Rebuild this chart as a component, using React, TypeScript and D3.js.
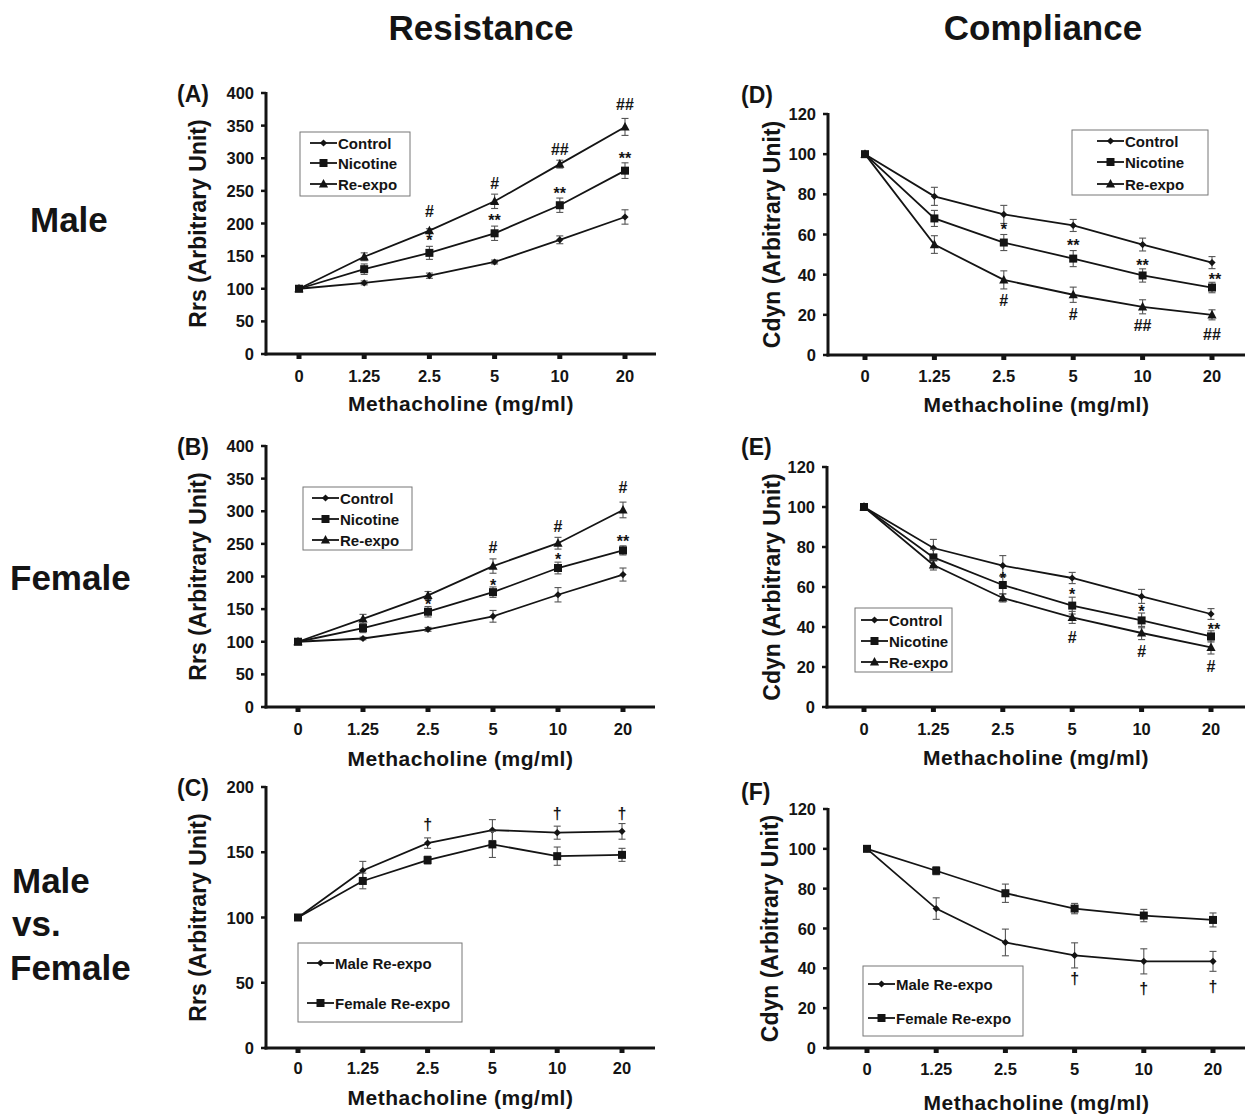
import React from 'react';
import * as d3 from 'd3';

// ---------- data ----------
const doses = ['0', '1.25', '2.5', '5', '10', '20'];
const rrsTicks = [0, 50, 100, 150, 200, 250, 300, 350, 400];
const rrsTicksC = [0, 50, 100, 150, 200];
const cdynTicks = [0, 20, 40, 60, 80, 100, 120];

// (A) Male resistance
const maleRrsControl = [100, 109, 120, 141, 175, 210];
const maleRrsControlErr = [0, 3, 4, 3, 6, 11];
const maleRrsNicotine = [100, 130, 155, 185, 228, 281];
const maleRrsNicotineErr = [0, 8, 10, 11, 11, 12];
const maleRrsReexpo = [100, 149, 189, 234, 291, 348];
const maleRrsReexpoErr = [0, 6, 3, 11, 6, 13];

// (B) Female resistance
const femaleRrsControl = [100, 105, 119, 139, 172, 203];
const femaleRrsControlErr = [0, 2, 3, 9, 11, 10];
const femaleRrsNicotine = [100, 121, 146, 176, 213, 240];
const femaleRrsNicotineErr = [0, 7, 8, 8, 9, 7];
const femaleRrsReexpo = [100, 135, 171, 216, 251, 302];
const femaleRrsReexpoErr = [0, 7, 6, 11, 9, 12];

// (C) Male vs female resistance
const maleReexpoRrs = [100, 136, 157, 167, 165, 166];
const maleReexpoRrsErr = [0, 7, 4, 8, 5, 6];
const femaleReexpoRrs = [100, 128, 144, 156, 147, 148];
const femaleReexpoRrsErr = [0, 6, 3, 10, 7, 5];

// (D) Male compliance
const maleCdynControl = [100, 79, 70, 64.5, 55, 46];
const maleCdynControlErr = [0, 4.5, 4.5, 3, 3.2, 3];
const maleCdynNicotine = [100, 68, 56, 48, 39.6, 33.6];
const maleCdynNicotineErr = [0, 4, 4, 4, 3.3, 2.6];
const maleCdynReexpo = [100, 55, 37.4, 30, 24, 20];
const maleCdynReexpoErr = [0, 4.4, 4.5, 3.8, 3.5, 2.5];

// (E) Female compliance
const femaleCdynControl = [100, 79.5, 70.7, 64.5, 55.3, 46.5];
const femaleCdynControlErr = [0, 4.3, 5, 2.8, 3.5, 2.7];
const femaleCdynNicotine = [100, 74.8, 61, 50.7, 43.3, 35.3];
const femaleCdynNicotineErr = [0, 4, 4.4, 4.2, 3.7, 2.8];
const femaleCdynReexpo = [100, 71, 54.5, 44.8, 37, 29.8];
const femaleCdynReexpoErr = [0, 2.5, 2, 3, 3.3, 3.3];

// (F) Male vs female compliance
const maleReexpoCdyn = [100, 70, 53, 46.5, 43.5, 43.5];
const maleReexpoCdynErr = [0, 5.4, 6.7, 6.3, 6.3, 5];
const femaleReexpoCdyn = [100, 89, 77.7, 70, 66.5, 64.3];
const femaleReexpoCdynErr = [0, 2, 4.6, 2.6, 3.1, 3.5];

// significance marks: [dose, value, symbol]
const annotA: [string, number, string][] = [
  ['2.5', 218, '#'], ['2.5', 179, '*'], ['5', 262, '#'], ['5', 210, '**'],
  ['10', 314, '##'], ['10', 252, '**'], ['20', 382, '##'], ['20', 305, '**'],
];
const annotB: [string, number, string][] = [
  ['2.5', 162, '*'], ['5', 244, '#'], ['5', 192, '*'], ['10', 277, '#'],
  ['10', 231, '*'], ['20', 337, '#'], ['20', 259, '**'],
];
const annotC: [string, number, string][] = [
  ['2.5', 171, '†'], ['10', 180, '†'], ['20', 180, '†'],
];
const annotD: [string, number, string][] = [
  ['2.5', 64, '*'], ['2.5', 27, '#'], ['5', 56.5, '**'], ['5', 20, '#'],
  ['10', 46.5, '**'], ['10', 14.5, '##'], ['20', 39.4, '**'], ['20', 10, '##'],
];
const annotE: [string, number, string][] = [
  ['2.5', 66, '*'], ['5', 58, '*'], ['5', 35, '#'], ['10', 49.5, '*'],
  ['10', 28, '#'], ['20', 40.3, '**'], ['20', 20.3, '#'],
];
const annotF: [string, number, string][] = [
  ['5', 35, '†'], ['10', 30, '†'], ['20', 31, '†'],
];

// ---------- types / helpers ----------
type MarkerKind = 'diamond' | 'square' | 'triangle';
type Series = { name: string; values: number[]; errors: number[]; marker: MarkerKind };

const FONT = '"Liberation Sans", Arial, Helvetica, sans-serif';
const INK = '#141414';

function Marker({ kind, x, y }: { kind: MarkerKind; x: number; y: number }) {
  if (kind === 'square') return <rect x={x - 4} y={y - 4} width={8} height={8} fill={INK} />;
  if (kind === 'diamond')
    return <path d={`M${x},${y - 3.6}L${x + 3.6},${y}L${x},${y + 3.6}L${x - 3.6},${y}Z`} fill={INK} />;
  return <path d={`M${x},${y - 5}L${x + 4.6},${y + 3.6}L${x - 4.6},${y + 3.6}Z`} fill={INK} />;
}

type PanelCfg = {
  label: string;
  labelX: number;
  labelY: number;
  axisX: number;
  axisRight: number;
  xFirst: number;
  xLast: number;
  yTop: number;
  yBot: number;
  ticks: number[];
  yTitle: string;
  yTitleX: number;
  xTickY: number;
  xTitleY: number;
  series: Series[];
  annots: [string, number, string][];
  legend: { x: number; y: number; w: number; h: number; lineX: number; rows: number[] };
};

function Panel({ cfg }: { cfg: PanelCfg }) {
  const x = d3.scalePoint<string>().domain(doses).range([cfg.xFirst, cfg.xLast]);
  const yMax = cfg.ticks[cfg.ticks.length - 1];
  const y = d3.scaleLinear().domain([0, yMax]).range([cfg.yBot, cfg.yTop]);
  const line = d3
    .line<number>()
    .x((_, i) => x(doses[i]) as number)
    .y((d) => y(d));

  const lg = cfg.legend;
  return (
    <g>
      {/* panel label */}
      <text x={cfg.labelX} y={cfg.labelY} fontSize={23} fontWeight="bold" dominantBaseline="central" fill={INK}>
        {cfg.label}
      </text>

      {/* y axis */}
      <line x1={cfg.axisX} x2={cfg.axisX} y1={y(yMax) - 1} y2={cfg.yBot + 1.5} stroke={INK} strokeWidth={3} />
      {cfg.ticks.map((t) => (
        <g key={'yt' + t}>
          <line x1={cfg.axisX - 5} x2={cfg.axisX} y1={y(t)} y2={y(t)} stroke={INK} strokeWidth={2.5} />
          <text
            x={cfg.axisX - 12}
            y={y(t)}
            textAnchor="end"
            dominantBaseline="central"
            fontSize={16.5}
            fontWeight="bold"
            fill={INK}
          >
            {t}
          </text>
        </g>
      ))}
      <text
        transform={`translate(${cfg.yTitleX},${(cfg.yTop + cfg.yBot) / 2}) rotate(-90)`}
        textAnchor="middle"
        dominantBaseline="central"
        fontSize={23}
        fontWeight="bold"
        fill={INK}
      >
        {cfg.yTitle}
      </text>

      {/* x axis */}
      <line x1={cfg.axisX - 1.5} x2={cfg.axisRight} y1={cfg.yBot} y2={cfg.yBot} stroke={INK} strokeWidth={3} />
      {doses.map((d) => (
        <g key={'xt' + d}>
          <rect x={(x(d) as number) - 2.5} y={cfg.yBot} width={5} height={5} fill={INK} />
          <text
            x={x(d) as number}
            y={cfg.xTickY}
            textAnchor="middle"
            dominantBaseline="central"
            fontSize={16.5}
            fontWeight="bold"
            fill={INK}
          >
            {d}
          </text>
        </g>
      ))}
      <text
        x={(cfg.axisX + cfg.axisRight) / 2}
        y={cfg.xTitleY}
        textAnchor="middle"
        dominantBaseline="central"
        fontSize={21}
        fontWeight="bold"
        letterSpacing={0.5}
        fill={INK}
      >
        Methacholine (mg/ml)
      </text>

      {/* series */}
      {cfg.series.map((s) => (
        <g key={s.name}>
          {s.values.map((v, i) =>
            s.errors[i] > 0 ? (
              <g key={'e' + i} stroke="#555" strokeWidth={1.1}>
                <line x1={x(doses[i]) as number} x2={x(doses[i]) as number} y1={y(v - s.errors[i])} y2={y(v + s.errors[i])} />
                <line x1={(x(doses[i]) as number) - 3.5} x2={(x(doses[i]) as number) + 3.5} y1={y(v - s.errors[i])} y2={y(v - s.errors[i])} />
                <line x1={(x(doses[i]) as number) - 3.5} x2={(x(doses[i]) as number) + 3.5} y1={y(v + s.errors[i])} y2={y(v + s.errors[i])} />
              </g>
            ) : null
          )}
          <path d={line(s.values) || ''} fill="none" stroke={INK} strokeWidth={1.8} />
          {s.values.map((v, i) => (
            <Marker key={'m' + i} kind={s.marker} x={x(doses[i]) as number} y={y(v)} />
          ))}
        </g>
      ))}

      {/* significance marks */}
      {cfg.annots.map(([d, v, sym], i) => (
        <text
          key={'a' + i}
          x={(x(d) as number) + (sym === '**' && d === '20' && yMax === 120 ? 3 : 0)}
          y={y(v) + (sym.startsWith('*') ? 3.5 : 0)}
          textAnchor="middle"
          dominantBaseline="central"
          fontSize={16}
          fontWeight="bold"
          fill={INK}
        >
          {sym}
        </text>
      ))}

      {/* legend */}
      <rect x={lg.x} y={lg.y} width={lg.w} height={lg.h} fill="#fff" stroke="#777" strokeWidth={1} />
      {cfg.series.map((s, i) => (
        <g key={'lg' + s.name}>
          <line x1={lg.lineX} x2={lg.lineX + 27} y1={lg.rows[i]} y2={lg.rows[i]} stroke={INK} strokeWidth={1.8} />
          <Marker kind={s.marker} x={lg.lineX + 13.5} y={lg.rows[i]} />
          <text
            x={lg.lineX + 28}
            y={lg.rows[i]}
            dominantBaseline="central"
            fontSize={15}
            fontWeight="bold"
            fill={INK}
          >
            {s.name}
          </text>
        </g>
      ))}
    </g>
  );
}

const panels: PanelCfg[] = [
  {
    label: '(A)', labelX: 177, labelY: 94, axisX: 266, axisRight: 656, xFirst: 299, xLast: 625,
    yTop: 93, yBot: 354, ticks: rrsTicks, yTitle: 'Rrs (Arbitrary Unit)', yTitleX: 198,
    xTickY: 376, xTitleY: 403,
    series: [
      { name: 'Control', values: maleRrsControl, errors: maleRrsControlErr, marker: 'diamond' },
      { name: 'Nicotine', values: maleRrsNicotine, errors: maleRrsNicotineErr, marker: 'square' },
      { name: 'Re-expo', values: maleRrsReexpo, errors: maleRrsReexpoErr, marker: 'triangle' },
    ],
    annots: annotA,
    legend: { x: 300, y: 132, w: 110, h: 64, lineX: 310, rows: [143, 163, 184] },
  },
  {
    label: '(B)', labelX: 177, labelY: 447, axisX: 266, axisRight: 655, xFirst: 298, xLast: 623,
    yTop: 446, yBot: 707, ticks: rrsTicks, yTitle: 'Rrs (Arbitrary Unit)', yTitleX: 198,
    xTickY: 729, xTitleY: 758,
    series: [
      { name: 'Control', values: femaleRrsControl, errors: femaleRrsControlErr, marker: 'diamond' },
      { name: 'Nicotine', values: femaleRrsNicotine, errors: femaleRrsNicotineErr, marker: 'square' },
      { name: 'Re-expo', values: femaleRrsReexpo, errors: femaleRrsReexpoErr, marker: 'triangle' },
    ],
    annots: annotB,
    legend: { x: 303, y: 487, w: 109, h: 63, lineX: 312, rows: [498, 519, 540] },
  },
  {
    label: '(C)', labelX: 177, labelY: 788, axisX: 266, axisRight: 655, xFirst: 298, xLast: 622,
    yTop: 787, yBot: 1048, ticks: rrsTicksC, yTitle: 'Rrs (Arbitrary Unit)', yTitleX: 198,
    xTickY: 1068, xTitleY: 1097,
    series: [
      { name: 'Male Re-expo', values: maleReexpoRrs, errors: maleReexpoRrsErr, marker: 'diamond' },
      { name: 'Female Re-expo', values: femaleReexpoRrs, errors: femaleReexpoRrsErr, marker: 'square' },
    ],
    annots: annotC,
    legend: { x: 298, y: 943, w: 164, h: 79, lineX: 307, rows: [963, 1003] },
  },
  {
    label: '(D)', labelX: 741, labelY: 95, axisX: 828, axisRight: 1245, xFirst: 865, xLast: 1212,
    yTop: 114, yBot: 355, ticks: cdynTicks, yTitle: 'Cdyn (Arbitrary Unit)', yTitleX: 772,
    xTickY: 376, xTitleY: 404,
    series: [
      { name: 'Control', values: maleCdynControl, errors: maleCdynControlErr, marker: 'diamond' },
      { name: 'Nicotine', values: maleCdynNicotine, errors: maleCdynNicotineErr, marker: 'square' },
      { name: 'Re-expo', values: maleCdynReexpo, errors: maleCdynReexpoErr, marker: 'triangle' },
    ],
    annots: annotD,
    legend: { x: 1072, y: 130, w: 136, h: 65, lineX: 1097, rows: [141, 162, 184] },
  },
  {
    label: '(E)', labelX: 741, labelY: 447, axisX: 827, axisRight: 1245, xFirst: 864, xLast: 1211,
    yTop: 467, yBot: 707, ticks: cdynTicks, yTitle: 'Cdyn (Arbitrary Unit)', yTitleX: 772,
    xTickY: 729, xTitleY: 757,
    series: [
      { name: 'Control', values: femaleCdynControl, errors: femaleCdynControlErr, marker: 'diamond' },
      { name: 'Nicotine', values: femaleCdynNicotine, errors: femaleCdynNicotineErr, marker: 'square' },
      { name: 'Re-expo', values: femaleCdynReexpo, errors: femaleCdynReexpoErr, marker: 'triangle' },
    ],
    annots: annotE,
    legend: { x: 855, y: 608, w: 97, h: 64, lineX: 861, rows: [620, 641, 662] },
  },
  {
    label: '(F)', labelX: 741, labelY: 792, axisX: 828, axisRight: 1245, xFirst: 867, xLast: 1213,
    yTop: 809, yBot: 1048, ticks: cdynTicks, yTitle: 'Cdyn (Arbitrary Unit)', yTitleX: 770,
    xTickY: 1069, xTitleY: 1102,
    series: [
      { name: 'Male Re-expo', values: maleReexpoCdyn, errors: maleReexpoCdynErr, marker: 'diamond' },
      { name: 'Female Re-expo', values: femaleReexpoCdyn, errors: femaleReexpoCdynErr, marker: 'square' },
    ],
    annots: annotF,
    legend: { x: 863, y: 966, w: 160, h: 70, lineX: 868, rows: [984, 1018] },
  },
];

export default function App() {
  return (
    <div style={{ position: 'absolute', left: 0, top: 0 }}>
      <svg width={1257} height={1115} style={{ display: 'block', background: '#fff' }} fontFamily={FONT}>
        <rect x={0} y={0} width={1257} height={1115} fill="#fff" />
        <text x={481} y={27} textAnchor="middle" dominantBaseline="central" fontSize={35} fontWeight="bold" fill={INK}>
          Resistance
        </text>
        <text x={1043} y={27} textAnchor="middle" dominantBaseline="central" fontSize={35} fontWeight="bold" fill={INK}>
          Compliance
        </text>
        <text x={30} y={219} dominantBaseline="central" fontSize={35} fontWeight="bold" fill={INK}>Male</text>
        <text x={10} y={577} dominantBaseline="central" fontSize={35} fontWeight="bold" fill={INK}>Female</text>
        <text x={12} y={880} dominantBaseline="central" fontSize={35} fontWeight="bold" fill={INK}>Male</text>
        <text x={12} y={923} dominantBaseline="central" fontSize={35} fontWeight="bold" fill={INK}>vs.</text>
        <text x={10} y={967} dominantBaseline="central" fontSize={35} fontWeight="bold" fill={INK}>Female</text>
        {panels.map((p) => (
          <Panel key={p.label} cfg={p} />
        ))}
      </svg>
    </div>
  );
}
